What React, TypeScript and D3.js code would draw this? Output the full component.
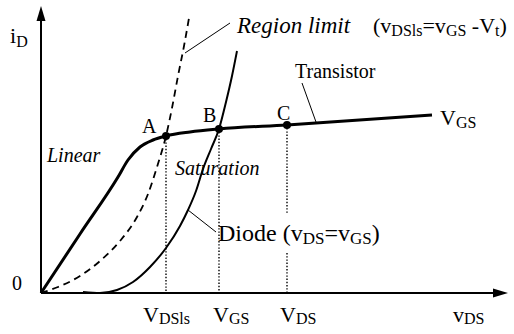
import React from 'react';
import * as d3 from 'd3';

// chart units: vDS along x, iD along y (arbitrary units)
const V_MAX = 46.7;
const I_MAX = 28.7;

const transistorV = [0, 3.9, 7.7, 8.7, 9.9, 11.2, 12.5, 14.9, 17.8, 24.6, 39.1];
const transistorI = [0, 5.9, 11.6, 13.3, 14.6, 15.3, 15.7, 16.1, 16.4, 16.8, 17.8];

const regionV = [0, 1.7, 3.9, 5.9, 7.9, 9.6, 10.7, 11.6, 12.5, 13.1, 13.7, 14.3, 14.8];
const regionI = [0, 0.6, 1.7, 3.2, 5.2, 7.6, 9.9, 12.6, 15.7, 18.5, 21.7, 24.7, 27.5];

const diodeV = [4.2, 5.9, 7.6, 9.2, 10.9, 12.5, 13.9, 14.7, 15.5, 16.2, 17.0, 17.8, 18.5, 19.1, 19.6];
const diodeI = [0.1, 0, 0.3, 1.1, 2.6, 4.5, 6.7, 8.3, 10.2, 12.4, 14.4, 16.4, 19.1, 21.7, 24.2];

const pointNames = ['A', 'B', 'C'];
const pointV = [12.5, 17.8, 24.6];
const pointI = [15.7, 16.4, 16.8];

// tick labels under the dotted lines: [main, subscript]
const tickMain = ['V', 'V', 'V'];
const tickSub = ['DSls', 'GS', 'DS'];
const tickShift = [-2.3, -0.6, -0.7];

// gap in the C dotted line where the Diode label sits
const gapI = [4.0, 8.0];

const W = 514, H = 334;
const FONT = "'Liberation Serif', 'Times New Roman', Times, serif";

const x = d3.scaleLinear().domain([0, V_MAX]).range([41, 508]);
const y = d3.scaleLinear().domain([0, I_MAX]).range([293, 6]);

type Part = [string, boolean];

function Label(props: {x: number, y: number, parts: Part[], size: number, sub: number, italic?: boolean, shift?: number}) {
  const shift = props.shift ?? 3;
  let prevSub = false;
  return (
    <text x={props.x} y={props.y} fill="#000"
      style={{fontFamily: FONT, fontSize: props.size, fontStyle: props.italic ? 'italic' : 'normal'}}>
      {props.parts.map((p, i) => {
        const dy = p[1] === prevSub ? 0 : (p[1] ? shift : -shift);
        prevSub = p[1];
        return <tspan key={i} dy={dy} style={{fontSize: p[1] ? props.sub : props.size}}>{p[0]}</tspan>;
      })}
    </text>
  );
}

export default function App() {
  const line = d3.line<number>().curve(d3.curveMonotoneX);
  const path = (vs: number[], is: number[]) =>
    line.x((_, i) => x(vs[i])).y((_, i) => y(is[i]))(vs) as string;

  const x0 = x(0), y0 = y(0);
  const yTop = y(I_MAX), xEnd = x(V_MAX);

  return (
    <svg width={W} height={H} style={{position: 'absolute', left: 0, top: 0, background: '#fff'}}>
      {/* axes */}
      <line x1={x0} y1={y0} x2={x0} y2={yTop + 12} stroke="#000" strokeWidth={2} />
      <path d={`M${x0},${yTop} L${x0 - 4.5},${yTop + 15} L${x0 + 4.5},${yTop + 15} Z`} fill="#000" />
      <line x1={x0} y1={y0} x2={xEnd - 12} y2={y0} stroke="#000" strokeWidth={2} />
      <path d={`M${xEnd},${y0} L${xEnd - 15},${y0 - 4.5} L${xEnd - 15},${y0 + 4.5} Z`} fill="#000" />

      {/* region labels */}
      <Label x={47} y={162} parts={[['Linear', false]]} size={20} sub={14} italic />
      <Label x={175} y={175} parts={[['Saturation', false]]} size={20} sub={14} italic />

      {/* dotted drops */}
      {pointV.map((v, i) => {
        const style = {stroke: '#000', strokeWidth: 1.4, strokeDasharray: '1.4,1.8'};
        if (i === 2) {
          return (
            <g key={i}>
              <line x1={x(v)} x2={x(v)} y1={y(pointI[i])} y2={y(gapI[1])} style={style} />
              <line x1={x(v)} x2={x(v)} y1={y(gapI[0])} y2={y0} style={style} />
            </g>
          );
        }
        return <line key={i} x1={x(v)} x2={x(v)} y1={y(pointI[i])} y2={y0} style={style} />;
      })}

      {/* curves */}
      <path d={path(regionV, regionI)} fill="none" stroke="#000" strokeWidth={1.8} strokeDasharray="7,5" />
      <path d={path(diodeV, diodeI)} fill="none" stroke="#000" strokeWidth={2} />
      <path d={path(transistorV, transistorI)} fill="none" stroke="#000" strokeWidth={3} />

      {/* leader lines */}
      <line x1={x(14.4)} y1={y(24.0)} x2={x(18.9)} y2={y(27.0)} stroke="#000" strokeWidth={1} />
      <line x1={x(26.1)} y1={y(21.0)} x2={x(27.5)} y2={y(17.1)} stroke="#000" strokeWidth={1} />
      <line x1={x(14.7)} y1={y(8.3)} x2={x(17.5)} y2={y(6.1)} stroke="#000" strokeWidth={1} />

      {/* points */}
      {pointV.map((v, i) => (
        <circle key={pointNames[i]} cx={x(v)} cy={y(pointI[i])} r={4} fill="#000" />
      ))}
      <Label x={142} y={133} parts={[['A', false]]} size={20} sub={14} />
      <Label x={203} y={122} parts={[['B', false]]} size={20} sub={14} />
      <Label x={277} y={120} parts={[['C', false]]} size={20} sub={14} />

      {/* annotations */}
      <Label x={237} y={33} parts={[['Region limit', false]]} size={23} sub={16} italic />
      <Label x={373} y={33}
        parts={[['(v', false], ['DSls', true], ['=v', false], ['GS', true], [' -V', false], ['t', true], [')', false]]}
        size={22} sub={16} />
      <Label x={295} y={78} parts={[['Transistor', false]]} size={20} sub={14} />
      <Label x={440} y={125} parts={[['V', false], ['GS', true]]} size={22} sub={16} />
      <Label x={218} y={241}
        parts={[['Diode (v', false], ['DS', true], ['=v', false], ['GS', true], [')', false]]}
        size={24} sub={17} />

      {/* axis labels */}
      <Label x={10} y={43} parts={[['i', false], ['D', true]]} size={22} sub={16} shift={4} />
      <Label x={12} y={290} parts={[['0', false]]} size={20} sub={14} />
      <Label x={453} y={322} parts={[['v', false], ['DS', true]]} size={22} sub={16} shift={2} />
      {pointV.map((v, i) => (
        <Label key={i} x={x(v + tickShift[i])} y={322}
          parts={[[tickMain[i], false], [tickSub[i], true]]} size={22} sub={16} shift={2} />
      ))}
    </svg>
  );
}
